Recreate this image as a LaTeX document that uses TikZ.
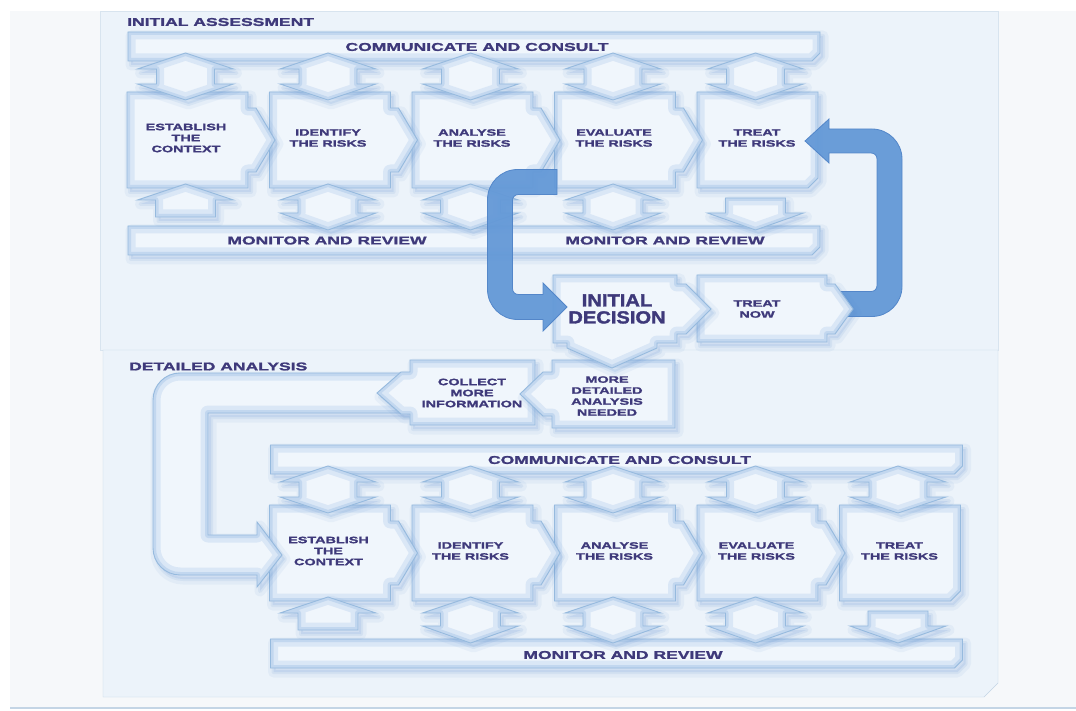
\documentclass[tikz,border=0pt]{standalone}
\usepackage{fontspec}
\newfontfamily\dfont{Liberation Sans}[FakeStretch=1.55,FakeBold=1.8]
\newfontfamily\bigfont{Liberation Sans}[FakeStretch=1.15,FakeBold=1.8]
\definecolor{pagebg}{RGB}{246,248,250}
\definecolor{tint}{RGB}{236,243,250}
\definecolor{boxfill}{RGB}{240,246,252}
\definecolor{edgec}{RGB}{150,186,222}
\definecolor{shadowc}{RGB}{90,140,205}
\definecolor{glowc}{RGB}{120,165,220}
\definecolor{textc}{RGB}{62,57,122}
\definecolor{bluea}{RGB}{100,153,215}
\definecolor{bluee}{RGB}{80,132,200}
\definecolor{framec}{RGB}{196,213,229}
\newcommand\softshape[1]{%
  \fill[shadowc,opacity=0.13,shift={(3,4)}] #1;
  \draw[shadowc,opacity=0.07,line width=11,line join=round,shift={(3,4)}] #1;
  \draw[shadowc,opacity=0.10,line width=4,line join=round,shift={(3,4)}] #1;
  \fill[boxfill] #1;
  \begin{scope}\clip #1;
    \draw[glowc,opacity=0.18,line width=15,line join=round] #1;
    \draw[glowc,opacity=0.24,line width=6,line join=round] #1;
  \end{scope}
  \draw[edgec,line width=0.9] #1;
}
\newcommand\riskrow[3]{%
\begin{scope}[shift={(#2,#3)}]
  \softshape{(128,32) -- (820,32) -- (820,53) -- (812,61) -- (128,61) -- cycle}
  \softshape{(128,226) -- (820,226) -- (820,247) -- (812,255) -- (128,255) -- cycle}
  \softshape{(697,92) -- (818,92) -- (818,178) -- (808,188) -- (697,188) -- cycle}
  \foreach \bx in {554.5,412,269.5,127}{
    \softshape{(\bx,92) -- (\bx+121,92) -- (\bx+121,108) -- (\bx+129,108) -- (\bx+148,140) -- (\bx+129,172) -- (\bx+121,172) -- (\bx+121,188) -- (\bx,188) -- cycle}
  }
  \foreach \c in {185.5,328,470.5,613,755.5}{
    \softshape{(\c,53) -- (\c+48,69) -- (\c+29,69) -- (\c+29,84) -- (\c+48,84) -- (\c,100) -- (\c-48,84) -- (\c-29,84) -- (\c-29,69) -- (\c-48,69) -- cycle}
  }
  \softshape{(185.5,184) -- (233.5,200) -- (215.5,200) -- (215.5,217) -- (155.5,217) -- (155.5,200) -- (137.5,200) -- cycle}
  \foreach \c in {328,470.5,613}{
    \softshape{(\c,184) -- (\c+48,200) -- (\c+30,200) -- (\c+30,213) -- (\c+48,213) -- (\c,230) -- (\c-48,213) -- (\c-30,213) -- (\c-30,200) -- (\c-48,200) -- cycle}
  }
  \softshape{(725.5,198) -- (785.5,198) -- (785.5,213) -- (803.5,213) -- (755.5,230) -- (707.5,213) -- (725.5,213) -- cycle}
  \node[boxlbl] (#1t1) at (186,138) {ESTABLISH\\THE\\CONTEXT};
  \node[boxlbl] (#1t2) at (328,138) {IDENTIFY\\THE RISKS};
  \node[boxlbl] (#1t3) at (472,138) {ANALYSE\\THE RISKS};
  \node[boxlbl] (#1t4) at (614,138) {EVALUATE\\THE RISKS};
  \node[boxlbl] (#1t5) at (757,138) {TREAT\\THE RISKS};
  \node[barlbl] (#1cc) at (477,47) {COMMUNICATE AND CONSULT};
\end{scope}}
\begin{document}
\begin{tikzpicture}[x=1pt,y=-1pt,
  boxlbl/.style={text=textc,align=center,inner sep=0pt,font=\dfont\bfseries\fontsize{9.3}{11}\selectfont},
  barlbl/.style={text=textc,inner sep=0pt,font=\dfont\bfseries\fontsize{11.3}{13}\selectfont},
  biglbl/.style={text=textc,align=center,inner sep=0pt,font=\bigfont\bfseries\fontsize{17.5}{17}\selectfont},
  bluearrow/.style={fill=bluea,draw=bluee,line width=0.8,opacity=0.95}]
\useasboundingbox (0,0) rectangle (1076,711);
\fill[white] (0,0) rectangle (1076,711);
\fill[pagebg] (10,11) rectangle (1076,708);
\draw[framec,line width=1.5] (10,708) -- (1076,708);
\filldraw[tint,draw=framec!50!tint] (100,11) rectangle (998,350);
\filldraw[tint,draw=framec] (103,350) -- (998,350) -- (998,683) -- (984,697) -- (103,697) -- cycle;
% rows
\riskrow{a}{0}{0}
\riskrow{b}{142.5}{413}
% U band (light)
\softshape{(406,373) -- (180,373) .. controls (165.1,373) and (153,385.1) .. (153,400) -- (153,548) .. controls (153,562.9) and (165.1,575) .. (180,575) -- (257,575) -- (257,587) -- (282,555) -- (257,522) -- (257,535) -- (208,535) -- (208,413) -- (406,413) -- cycle}
% collect / more detailed
\softshape{(535,360) -- (535,425) -- (410,425) -- (410,414) -- (401,414) -- (377,393) -- (401,372) -- (410,372) -- (410,360) -- cycle}
\softshape{(675,360) -- (675,428) -- (552,428) -- (552,416) -- (543,416) -- (520,394) -- (543,372) -- (552,372) -- (552,360) -- cycle}
% right blue loop
\path[bluearrow] (840,291.5) -- (871,291.5) .. controls (874.5,291.5) and (877,289) .. (877,285.5) -- (877,159) .. controls (877,155.5) and (874.5,153) .. (871,153) -- (829,153) -- (829,163) -- (805,141) -- (829,119) -- (829,129) -- (872,129) .. controls (888.5,129) and (902,142.5) .. (902,159) -- (902,286.5) .. controls (902,303) and (888.5,316.5) .. (872,316.5) -- (840,316.5) -- cycle;
% treat now / initial decision
\softshape{(697,275) -- (827,275) -- (827,284) -- (835,284) -- (853,309) -- (835,334) -- (827,334) -- (827,342) -- (697,342) -- cycle}
\softshape{(553,275) -- (677,275) -- (677,284) -- (686,284) -- (711,309) -- (686,334) -- (677,334) -- (677,343) -- (657,343) -- (657,348) -- (612,368) -- (567,348) -- (567,343) -- (553,343) -- cycle}
% left blue loop
\path[bluearrow] (557,169.5) -- (517.5,169.5) .. controls (501,169.5) and (487.5,183) .. (487.5,199.5) -- (487.5,289.5) .. controls (487.5,306) and (501,319.5) .. (517.5,319.5) -- (543,319.5) -- (543,331) -- (567,307) -- (543,283) -- (543,294.5) -- (518.5,294.5) .. controls (515,294.5) and (512.5,292) .. (512.5,288.5) -- (512.5,200.5) .. controls (512.5,197) and (515,194.5) .. (518.5,194.5) -- (557,194.5) -- cycle;
% labels
\node[barlbl,anchor=west] (ia) at (127,22) {INITIAL ASSESSMENT};
\node[barlbl,anchor=west] (da) at (129,366.5) {DETAILED ANALYSIS};
\node[barlbl] (monA1) at (327,240.5) {MONITOR AND REVIEW};
\node[barlbl] (monA2) at (665,240.5) {MONITOR AND REVIEW};
\node[barlbl] (monB) at (623,655) {MONITOR AND REVIEW};
\node[biglbl] (idn) at (617,309) {INITIAL\\DECISION};
\node[boxlbl] (tn) at (757,309) {TREAT\\NOW};
\node[boxlbl] (mdn) at (607,396) {MORE\\DETAILED\\ANALYSIS\\NEEDED};
\node[boxlbl] (cmi) at (472,393) {COLLECT\\MORE\\INFORMATION};
\end{tikzpicture}
\end{document}
